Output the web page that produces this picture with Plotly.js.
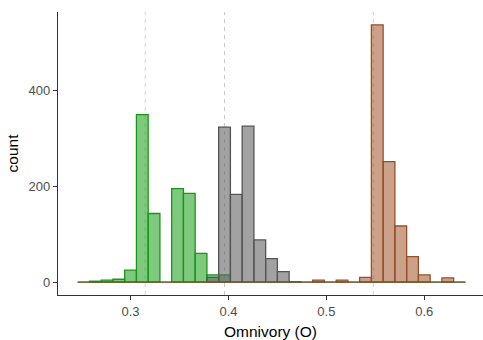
<!DOCTYPE html>
<html><head><meta charset="utf-8">
<script src="https://cdn.plot.ly/plotly-3.0.1.min.js"></script>
<style>html,body{margin:0;padding:0;background:#fff}#chart{width:483px;height:340px}</style>
</head><body><div id="chart"></div>
<script>
const binWidth = 0.012;
const binCenters = [0.252,0.264,0.276,0.288,0.300,0.312,0.324,0.336,0.348,0.360,0.372,0.384,0.396,0.408,0.420,0.432,0.444,0.456,0.468,0.480,0.492,0.504,0.516,0.528,0.540,0.552,0.564,0.576,0.588,0.600,0.612,0.624,0.636];
const greenCounts = [0,2,4,6,25,349,143,0,195,185,60,15,15,0,0,0,0,0,0,0,0,0,0,0,0,0,0,0,0,0,0,0,0];
const grayCounts  = [0,0,0,0,0,0,0,0,0,0,0,10,323,183,325,88,49,22,0,0,0,0,0,0,0,0,0,0,0,0,0,0,0];
const brownCounts = [0,0,0,0,0,0,0,0,0,0,0,0,0,0,0,0,0,0,1,0,4,0,4,0,10,536,251,117,53,15,0,9,0];
const groupMeans = [0.315, 0.396, 0.548];
const xTickVals = [0.3, 0.4, 0.5, 0.6];
const xTickText = ['0.3', '0.4', '0.5', '0.6'];
const yTickVals = [0, 200, 400];
const yTickText = ['0', '200', '400'];

const styles = [
  {fill:'rgba(30,160,30,0.57)', line:'rgb(25,150,25)', vline:'rgba(34,160,34,0.3)'},
  {fill:'rgba(100,100,100,0.6)', line:'rgb(85,85,85)', vline:'rgba(100,100,100,0.35)'},
  {fill:'rgba(160,85,40,0.55)', line:'rgb(150,80,40)', vline:'rgba(160,82,45,0.3)'}
];
const series = [greenCounts, grayCounts, brownCounts];
const lo = binCenters[0] - binWidth/2, hi = binCenters[binCenters.length-1] + binWidth/2;

const traces = [];
series.forEach((counts, i) => {
  traces.push({
    type:'bar', x: binCenters, y: counts.map(c => c === 0 ? null : c), width: binWidth,
    marker:{color: styles[i].fill, line:{color: styles[i].line, width: 1.3}},
    hoverinfo:'skip', showlegend:false
  });
});
series.forEach((counts, i) => {
  traces.push({
    type:'scatter', mode:'lines', x:[lo, hi], y:[0, 0],
    line:{color: styles[i].line, width: 1.2}, opacity: 0.7, hoverinfo:'skip', showlegend:false
  });
});

const shapes = groupMeans.map((m, i) => ({
  type:'line', xref:'x', yref:'paper', x0:m, x1:m, y0:0, y1:1, layer:'above',
  line:{color: styles[i].vline, width: 1, dash:'4px,4px'}
}));

const layout = {
  width:483, height:340,
  margin:{l:58, r:0, t:12, b:45},
  paper_bgcolor:'#fff', plot_bgcolor:'#fff',
  barmode:'overlay', bargap:0,
  font:{family:'Liberation Sans, Arial, sans-serif', color:'#000'},
  xaxis:{
    range:[0.2259, 0.6600], showgrid:false, zeroline:false,
    showline:true, linecolor:'#333', linewidth:1.2,
    ticks:'outside', ticklen:4, tickcolor:'#333', tickwidth:1,
    tickvals:xTickVals, ticktext:xTickText,
    tickfont:{size:13, color:'#4d4d4d'},
    title:{text:'Omnivory (O)', font:{size:15.5, color:'#000'}, standoff:8}
  },
  yaxis:{
    range:[-26.8, 562.8], showgrid:false, zeroline:false,
    showline:true, linecolor:'#333', linewidth:1.2,
    ticks:'outside', ticklen:4, tickcolor:'#333', tickwidth:1,
    tickvals:yTickVals, ticktext:yTickText,
    tickfont:{size:13, color:'#4d4d4d'},
    title:{text:'count', font:{size:15.5, color:'#000'}, standoff:6}
  },
  shapes: shapes
};
Plotly.newPlot('chart', traces, layout, {displayModeBar:false, staticPlot:true});
</script></body></html>
